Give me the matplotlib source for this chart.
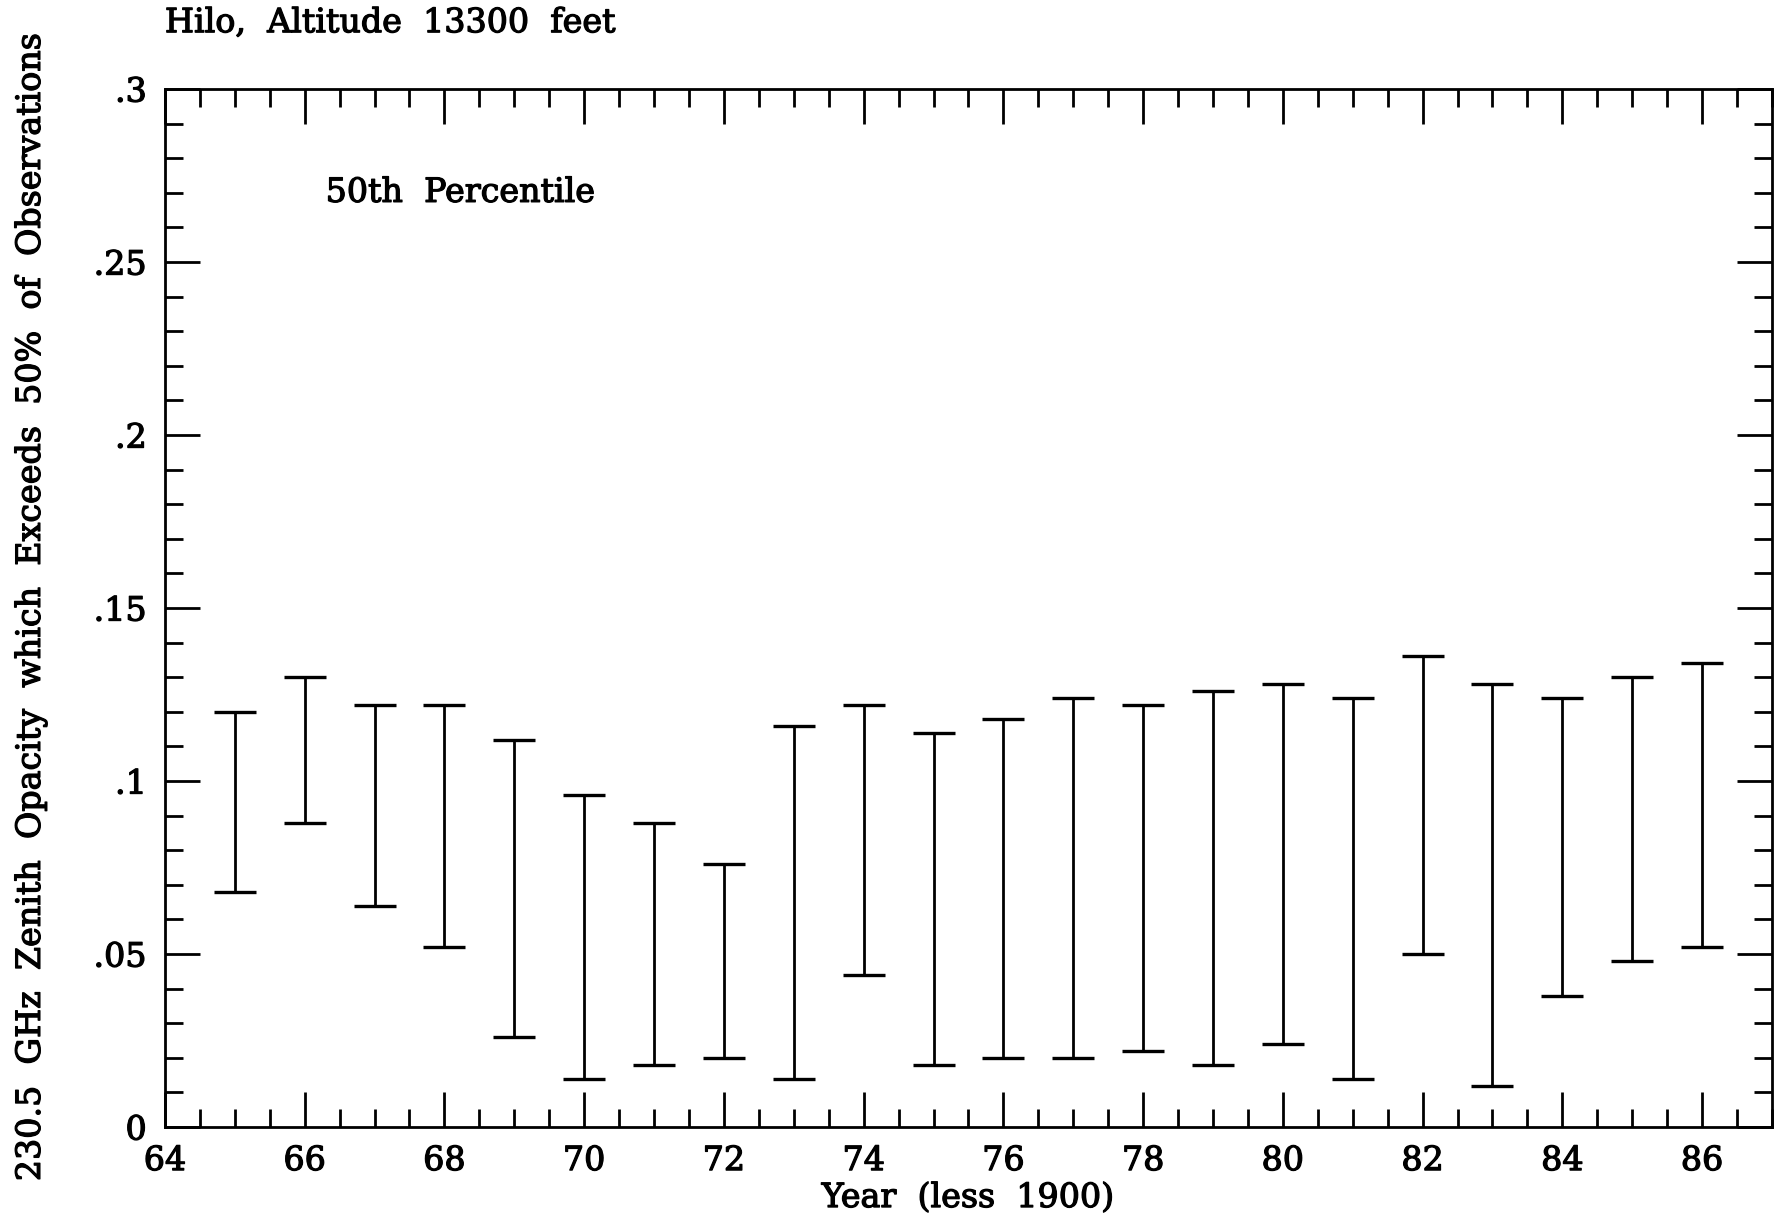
import numpy as np
import matplotlib
matplotlib.use('Agg')
import matplotlib.pyplot as plt
import matplotlib.patheffects as pe
from matplotlib.ticker import MultipleLocator

# 50th percentile opacity range per year
years = [65, 66, 67, 68, 69, 70, 71, 72, 73, 74, 75, 76, 77, 78, 79, 80, 81, 82, 83, 84, 85, 86]
upper = [0.120, 0.130, 0.122, 0.122, 0.112, 0.096, 0.088, 0.076, 0.116, 0.122, 0.114,
         0.118, 0.124, 0.122, 0.126, 0.128, 0.124, 0.136, 0.128, 0.124, 0.130, 0.134]
lower = [0.068, 0.088, 0.064, 0.052, 0.026, 0.014, 0.018, 0.020, 0.014, 0.044, 0.018,
         0.020, 0.020, 0.022, 0.018, 0.024, 0.014, 0.050, 0.012, 0.038, 0.048, 0.052]

ytick_vals = [0, 0.05, 0.1, 0.15, 0.2, 0.25, 0.3]
ytick_labels = ['0', '.05', '.1', '.15', '.2', '.25', '.3']

plt.rcParams['font.family'] = ['DejaVu Serif']
fs = 24
heavy = [pe.withStroke(linewidth=0.9, foreground='black')]

fig = plt.figure(figsize=(17.85, 12.2), dpi=100)
ax = fig.add_axes([0.0924, 0.0762, 0.9003, 0.8508])

years = np.array(years)
upper = np.array(upper)
lower = np.array(lower)
mid = (upper + lower) / 2
ax.errorbar(years, mid, yerr=[mid - lower, upper - mid], fmt='none', ecolor='black',
            elinewidth=2.0, capsize=15, capthick=2.4)

ax.set_xlim(64, 87)
ax.set_ylim(0, 0.3)
ax.xaxis.set_major_locator(MultipleLocator(2))
ax.xaxis.set_minor_locator(MultipleLocator(0.5))
ax.set_yticks(ytick_vals)
ax.set_yticklabels(ytick_labels)
ax.yaxis.set_minor_locator(MultipleLocator(0.01))

ax.tick_params(which='both', direction='in', top=True, right=True, width=2, labelsize=fs, pad=13)
ax.tick_params(which='major', length=25)
ax.tick_params(which='minor', length=13)
for s in ax.spines.values():
    s.set_linewidth(2)
for lbl in ax.get_xticklabels() + ax.get_yticklabels():
    lbl.set_path_effects(heavy)

ax.set_xlabel('Year  (less  1900)', fontsize=fs, path_effects=heavy)
ax.xaxis.label.set_va('center')
ax.xaxis.set_label_coords(0.5, -0.0684)
ax.set_ylabel('230.5  GHz  Zenith  Opacity  which  Exceeds  50%  of  Observations', fontsize=fs, path_effects=heavy)
ax.yaxis.label.set_va('center')
ax.yaxis.set_label_coords(-0.0834, 0.502)
ax.text(66.3, 0.27, '50th  Percentile', fontsize=fs, va='center', ha='left', path_effects=heavy)
fig.text(0.0924, 0.981, 'Hilo,  Altitude  13300  feet', fontsize=fs, va='center', ha='left', path_effects=heavy)

fig.savefig('out.png', dpi=100)
